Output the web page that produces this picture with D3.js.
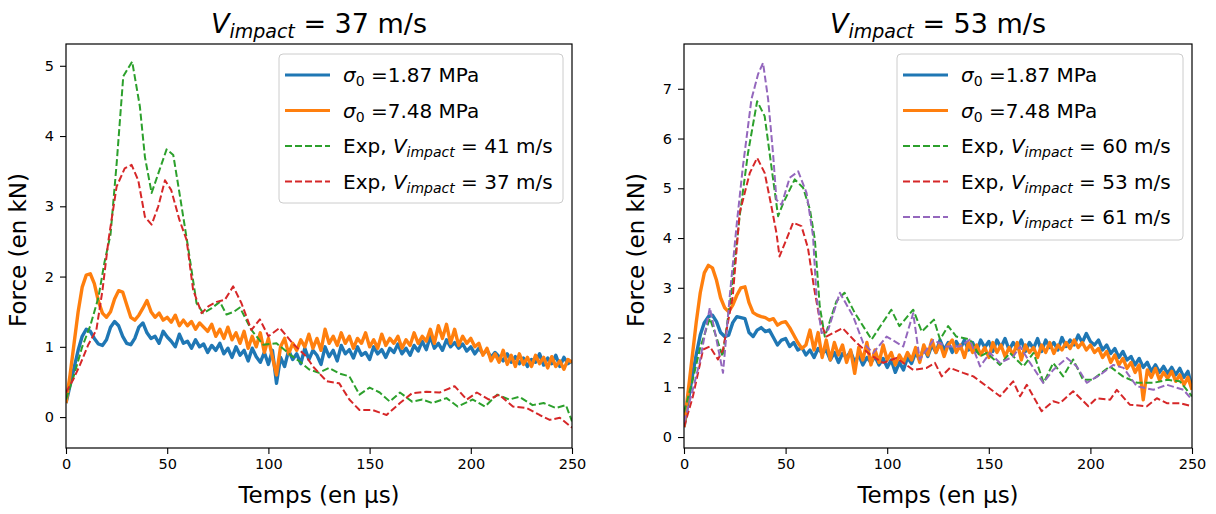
<!DOCTYPE html>
<html><head><meta charset="utf-8">
<script src="https://cdn.jsdelivr.net/npm/d3@7"></script>
<style>body{margin:0;background:#fff}svg{display:block}text{font-family:"DejaVu Sans",sans-serif;fill:#000}</style>
</head><body><svg id="c" width="1216" height="514"></svg>
<script>
// ---- data ----
const timeStep = 2; // µs sampling of the simulation series
const xTicks = [0, 50, 100, 150, 200, 250];
const yTicksLeft = [0, 1, 2, 3, 4, 5];
const yTicksRight = [0, 1, 2, 3, 4, 5, 6, 7];
const titleSpeeds = ["37", "53"];
const simLabels = ["1.87", "7.48"];
const expSpeedsLeft = ["41", "37"];
const expSpeedsRight = ["60", "53", "61"];

const leftSim187 = [0.2,0.45,0.7,0.95,1.15,1.25,1.22,1.12,1.04,1.02,1.1,1.28,1.36,1.3,1.15,1.05,1.03,1.12,1.28,1.34,1.2,1.12,1.15,1.05,1.22,1.14,1.08,1.0,1.18,1.05,1.08,0.98,1.1,1.0,1.04,0.92,1.02,0.95,1.05,0.9,0.98,0.85,1.0,0.88,0.95,0.8,0.98,0.86,0.78,0.92,0.75,0.95,0.48,0.85,0.72,0.95,0.82,0.9,0.76,0.98,0.82,0.95,0.88,0.75,1.0,0.86,0.95,0.8,1.02,0.9,0.96,0.84,1.0,0.88,0.92,0.82,1.0,0.9,0.96,0.85,0.98,0.92,1.04,0.9,0.98,0.88,1.02,0.94,1.08,0.96,1.15,0.98,1.05,0.95,1.1,1.0,1.06,0.98,1.04,0.94,1.0,0.9,0.98,0.9,0.95,0.85,0.92,0.86,0.8,0.9,0.78,0.86,0.76,0.84,0.72,0.82,0.78,0.9,0.74,0.84,0.76,0.88,0.72,0.85,0.76,0.8];
const leftSim748 = [0.2,0.6,1.05,1.5,1.85,2.02,2.04,1.9,1.65,1.48,1.42,1.5,1.68,1.8,1.78,1.6,1.42,1.38,1.45,1.55,1.66,1.5,1.42,1.48,1.38,1.42,1.35,1.45,1.3,1.38,1.3,1.36,1.25,1.34,1.28,1.22,1.32,1.15,1.25,1.12,1.28,1.1,1.2,1.05,1.22,0.98,1.15,1.0,1.2,0.92,1.12,0.85,0.6,1.0,1.12,0.9,1.05,0.95,1.1,1.0,1.18,0.98,1.12,0.95,1.25,1.05,1.15,1.02,1.2,1.05,1.15,0.98,1.12,1.05,1.2,1.0,1.1,0.98,1.18,1.02,1.12,1.05,1.15,0.98,1.1,1.02,1.2,1.05,1.15,1.08,1.25,1.05,1.3,1.12,1.32,1.05,1.25,1.02,1.15,1.05,1.12,1.0,1.05,0.88,0.98,0.8,0.9,0.78,0.95,0.75,0.88,0.72,0.9,0.75,0.85,0.72,0.88,0.76,0.85,0.7,0.86,0.72,0.8,0.68,0.82,0.78];
const rightSim187 = [0.2,0.7,1.2,1.65,2.05,2.3,2.42,2.45,2.32,2.1,2.02,2.05,2.3,2.42,2.4,2.38,2.1,2.02,2.15,2.2,2.12,2.15,2.0,1.85,1.95,1.98,1.82,1.9,1.75,1.8,1.65,1.75,1.6,1.78,1.68,1.75,1.55,1.7,1.5,1.68,1.6,1.72,1.5,1.65,1.45,1.6,1.5,1.62,1.45,1.58,1.4,1.55,1.3,1.5,1.35,1.6,1.48,1.7,1.55,1.8,1.62,1.85,1.7,1.95,1.75,1.9,1.7,1.92,1.78,1.95,1.75,1.9,1.72,1.95,1.8,1.92,1.72,1.95,1.8,1.98,1.75,1.9,1.78,1.95,1.72,1.9,1.78,1.98,1.72,1.95,1.8,1.9,1.75,2.0,1.82,1.95,1.85,2.05,1.9,2.08,1.92,1.85,1.95,1.75,1.85,1.68,1.78,1.6,1.72,1.55,1.62,1.45,1.58,1.4,1.5,1.32,1.45,1.3,1.42,1.28,1.4,1.25,1.38,1.2,1.32,1.0];
const rightSim748 = [0.2,0.9,1.6,2.3,2.9,3.3,3.45,3.4,3.15,2.8,2.6,2.52,2.65,2.85,3.0,3.02,2.7,2.5,2.45,2.42,2.4,2.35,2.38,2.25,2.3,2.32,2.2,2.05,1.9,1.78,1.85,2.15,1.75,2.1,1.6,1.95,1.55,1.9,1.65,1.85,1.5,1.75,1.28,1.8,1.55,1.9,1.45,1.75,1.5,1.85,1.55,1.7,1.45,1.65,1.5,1.7,1.55,1.8,1.5,1.85,1.65,1.95,1.7,1.88,1.62,1.85,1.95,1.7,1.85,1.6,1.9,1.7,1.85,1.65,1.8,1.6,1.9,1.7,1.85,1.62,1.8,1.65,1.9,1.55,1.85,1.7,1.8,1.6,1.85,1.7,1.9,1.68,1.85,1.75,1.9,1.78,1.95,1.8,1.9,1.75,1.85,1.7,1.78,1.6,1.72,1.5,1.65,1.45,1.58,1.38,1.5,1.3,1.45,0.75,1.35,1.2,1.38,1.15,1.3,1.18,1.32,1.12,1.25,1.05,1.2,0.95];

// experimental curves: [time µs, force kN]
const leftExp41 = [[0,0.25],[4,0.6],[8,1.0],[12,1.3],[16,1.7],[19,2.2],[22,2.6],[25,3.6],[28.3,4.85],[32.7,5.06],[36.5,4.42],[39,3.7],[42.3,3.19],[46,3.5],[49.7,3.81],[53,3.73],[56,3.2],[60.4,2.4],[64.5,1.62],[67.8,1.48],[72,1.55],[76,1.64],[79.3,1.46],[83,1.5],[85.9,1.56],[91.6,1.24],[97.4,1.03],[104,1.05],[112,0.86],[116,0.78],[120,0.68],[125,0.63],[130,0.7],[135,0.62],[140,0.58],[145,0.32],[150,0.42],[155,0.35],[160,0.22],[165,0.35],[171,0.22],[176,0.25],[181,0.2],[188,0.27],[193.5,0.15],[201,0.25],[207,0.15],[213,0.32],[219,0.25],[224,0.29],[230.5,0.17],[236,0.2],[242,0.13],[247,0.17],[250,-0.06]];
const leftExp37 = [[0,0.35],[3.5,0.53],[7,0.75],[11,1.03],[15,1.24],[18,1.8],[21,2.52],[25,3.28],[29,3.54],[32.4,3.59],[35.7,3.37],[39,2.85],[42.3,2.74],[45.6,3.0],[48.9,3.37],[52,3.23],[56,2.81],[59.6,2.52],[62.8,1.81],[67,1.48],[70.5,1.58],[74.4,1.64],[78.5,1.67],[82.6,1.86],[86.7,1.62],[91.6,1.24],[95.8,1.39],[100,1.15],[105.6,1.27],[112,1.05],[118.8,0.86],[122,0.72],[128.8,0.51],[135,0.48],[140,0.25],[145,0.1],[151.5,0.1],[158.4,0.03],[165,0.2],[171,0.34],[178,0.36],[184.6,0.35],[192,0.44],[198,0.25],[203,0.35],[209,0.25],[214,0.32],[220.8,0.15],[227.6,0.13],[234,0.03],[239,-0.04],[244,-0.01],[250,-0.15]];
const rightExp60 = [[0,0.5],[4,1.1],[8,1.8],[12.7,2.39],[16,2.0],[19,1.62],[23,2.8],[27.4,4.44],[31.5,5.71],[36,6.75],[39.7,6.45],[43,5.44],[46.3,4.44],[48.8,4.7],[54.5,5.18],[58.6,5.01],[62,4.57],[64.4,3.97],[66.8,2.63],[69.3,2.02],[75,2.73],[79,2.9],[84,2.5],[92.3,1.96],[102,2.56],[106,2.23],[112.8,2.56],[117,2.12],[123,2.36],[126,1.96],[130,2.23],[134,2.02],[140.7,1.96],[145.7,1.62],[149,1.69],[155.5,1.45],[160.4,1.69],[167,1.42],[172,1.69],[177,1.09],[181.7,1.49],[186.6,1.22],[191.5,1.56],[196.4,1.15],[201,1.15],[209.6,1.42],[216,1.22],[223,1.09],[231,1.09],[238,1.15],[244,1.12],[250,0.82]];
const rightExp53 = [[0,0.2],[4.4,0.82],[9.4,1.76],[12.7,1.82],[16.7,1.56],[19.2,1.76],[24,2.83],[27.4,4.51],[32.4,5.31],[36,5.61],[39.7,5.31],[43,4.64],[45.5,4.1],[47,3.63],[50.4,3.97],[53.7,4.31],[57.8,4.24],[61,3.8],[64,3.0],[66.8,2.36],[70,2.02],[78,2.19],[85,1.89],[91.5,1.66],[98,1.49],[104.6,1.59],[112.8,1.35],[119.4,1.39],[123.5,1.49],[126.8,1.22],[130.9,1.39],[137.4,1.29],[142.4,1.22],[149,1.02],[155.5,0.82],[162,1.12],[165.4,0.82],[168.7,1.05],[176,0.52],[181.7,0.72],[185,0.68],[191.5,0.92],[199,0.62],[203,0.78],[209.7,0.75],[213,0.95],[219.4,0.65],[227.8,0.62],[232.7,0.78],[237.6,0.68],[244,0.68],[250,0.62]];
const rightExp61 = [[0,0.3],[4,0.9],[7.7,1.5],[12.7,2.6],[15,2.16],[19.2,1.29],[22.5,2.83],[26,4.3],[29,5.44],[33.2,6.79],[36.5,7.3],[38.9,7.52],[41.4,6.79],[43.8,5.71],[45.5,4.77],[48,4.67],[52,5.21],[56.2,5.34],[60.3,4.91],[63.5,4.04],[65.2,2.83],[67.7,2.09],[71,2.16],[76.7,2.9],[83.2,2.43],[88.2,1.89],[93.1,1.69],[99.7,2.02],[107.9,1.82],[112.8,2.49],[116,1.56],[122.7,1.95],[129,1.82],[135.8,1.82],[140.7,1.96],[145.7,1.42],[150.6,1.69],[155.5,1.49],[162,1.62],[165.4,1.82],[170.3,1.49],[176.8,1.09],[181.7,1.35],[188.4,1.59],[193.3,1.42],[198.2,1.09],[204.8,1.25],[211.3,1.45],[216.3,1.39],[222.8,1.02],[231,0.95],[237.6,1.05],[245.8,0.95],[250,0.75]];

// ---- drawing ----
const C = {blue:"#1f77b4", orange:"#ff7f0e", green:"#2ca02c", red:"#d62728", purple:"#9467bd"};
const svg = d3.select("#c");
const SIM_W = 3.4, EXP_W = 2, DASH = "7,3";

function simPairs(arr){ return arr.map((v,i)=>[i*timeStep, v]); }

function panel(opt){
  const {x0,x1,y0,y1,ydom,yticks,series,title,legend,leg} = opt;
  const x = d3.scaleLinear().domain([0,250]).range([x0,x1]);
  const y = d3.scaleLinear().domain(ydom).range([y1,y0]);
  const g = svg.append("g");
  const clipId = "clip"+x0;
  g.append("clipPath").attr("id",clipId).append("rect").attr("x",x0).attr("y",y0).attr("width",x1-x0).attr("height",y1-y0);
  const line = d3.line().x(d=>x(d[0])).y(d=>y(d[1]));
  const pg = g.append("g").attr("clip-path",`url(#${clipId})`);
  series.forEach(s=>{
    pg.append("path").datum(s.data).attr("d",line).attr("fill","none")
      .attr("stroke",s.color).attr("stroke-width",s.dash?EXP_W:SIM_W)
      .attr("stroke-dasharray",s.dash?DASH:null).attr("stroke-linejoin","round");
  });
  // axes
  const xa = g.append("g").attr("transform",`translate(0,${y1})`).call(d3.axisBottom(x).tickValues(xTicks).tickFormat(d3.format("d")).tickSize(6).tickPadding(5));
  const ya = g.append("g").attr("transform",`translate(${x0},0)`).call(d3.axisLeft(y).tickValues(yticks).tickFormat(d3.format("d")).tickSize(6).tickPadding(6));
  [xa,ya].forEach(a=>{a.select(".domain").remove();a.selectAll("line").attr("stroke","#000").attr("stroke-width",1.1);a.selectAll("text").attr("font-size",14.5).attr("font-family","DejaVu Sans").attr("fill","#000");});
  g.append("rect").attr("x",x0).attr("y",y0).attr("width",x1-x0).attr("height",y1-y0).attr("fill","none").attr("stroke","#000").attr("stroke-width",1.2);
  // labels
  g.append("text").attr("x",(x0+x1)/2).attr("y",503).attr("text-anchor","middle").attr("font-size",23).text("Temps (en µs)");
  g.append("text").attr("transform",`translate(${x0-40},${(y0+y1)/2+4}) rotate(-90)`).attr("text-anchor","middle").attr("font-size",23).text("Force (en kN)");
  const t = g.append("text").attr("x",(x0+x1)/2).attr("y",33).attr("text-anchor","middle").attr("font-size",27);
  t.append("tspan").attr("font-style","italic").text("V");
  t.append("tspan").attr("font-style","italic").attr("font-size",19).attr("dy",5).text("impact");
  t.append("tspan").attr("dy",-5).text(" = "+title+" m/s");
  // legend
  const lg = g.append("g");
  lg.append("rect").attr("x",leg.x).attr("y",leg.y).attr("width",leg.w).attr("height",leg.h).attr("rx",4)
    .attr("fill","#fff").attr("fill-opacity",0.8).attr("stroke","#cccccc").attr("stroke-width",1);
  legend.forEach((e,i)=>{
    const yy = leg.y+21+i*35.5;
    lg.append("line").attr("x1",leg.x+6).attr("x2",leg.x+51).attr("y1",yy).attr("y2",yy)
      .attr("stroke",e.color).attr("stroke-width",e.dash?EXP_W:3).attr("stroke-dasharray",e.dash?DASH:null);
    const tx = lg.append("text").attr("x",leg.x+64).attr("y",yy+7).attr("font-size",20);
    if(e.sigma){
      tx.append("tspan").attr("font-style","italic").text("σ");
      tx.append("tspan").attr("font-size",14).attr("dy",4).text("0");
      tx.append("tspan").attr("dy",-4).text(" =" + e.sigma + " MPa");
    } else {
      tx.append("tspan").text("Exp, ");
      tx.append("tspan").attr("font-style","italic").text("V");
      tx.append("tspan").attr("font-style","italic").attr("font-size",14).attr("dy",4).text("impact");
      tx.append("tspan").attr("dy",-4).text(" = "+e.speed+" m/s");
    }
  });
}

panel({x0:66,x1:572,y0:44,y1:448,ydom:[-0.44,5.31],yticks:yTicksLeft,title:titleSpeeds[0],
  series:[{data:simPairs(leftSim187),color:C.blue},{data:simPairs(leftSim748),color:C.orange},
          {data:leftExp41,color:C.green,dash:true},{data:leftExp37,color:C.red,dash:true}],
  legend:[{sigma:simLabels[0],color:C.blue},{sigma:simLabels[1],color:C.orange},
          {speed:expSpeedsLeft[0],color:C.green,dash:true},{speed:expSpeedsLeft[1],color:C.red,dash:true}],
  leg:{x:279,y:54,w:284,h:149}});

panel({x0:684,x1:1192,y0:44,y1:448,ydom:[-0.22,7.9],yticks:yTicksRight,title:titleSpeeds[1],
  series:[{data:simPairs(rightSim187),color:C.blue},{data:simPairs(rightSim748),color:C.orange},
          {data:rightExp60,color:C.green,dash:true},{data:rightExp53,color:C.red,dash:true},{data:rightExp61,color:C.purple,dash:true}],
  legend:[{sigma:simLabels[0],color:C.blue},{sigma:simLabels[1],color:C.orange},
          {speed:expSpeedsRight[0],color:C.green,dash:true},{speed:expSpeedsRight[1],color:C.red,dash:true},{speed:expSpeedsRight[2],color:C.purple,dash:true}],
  leg:{x:897,y:54,w:286,h:186}});
</script></body></html>
